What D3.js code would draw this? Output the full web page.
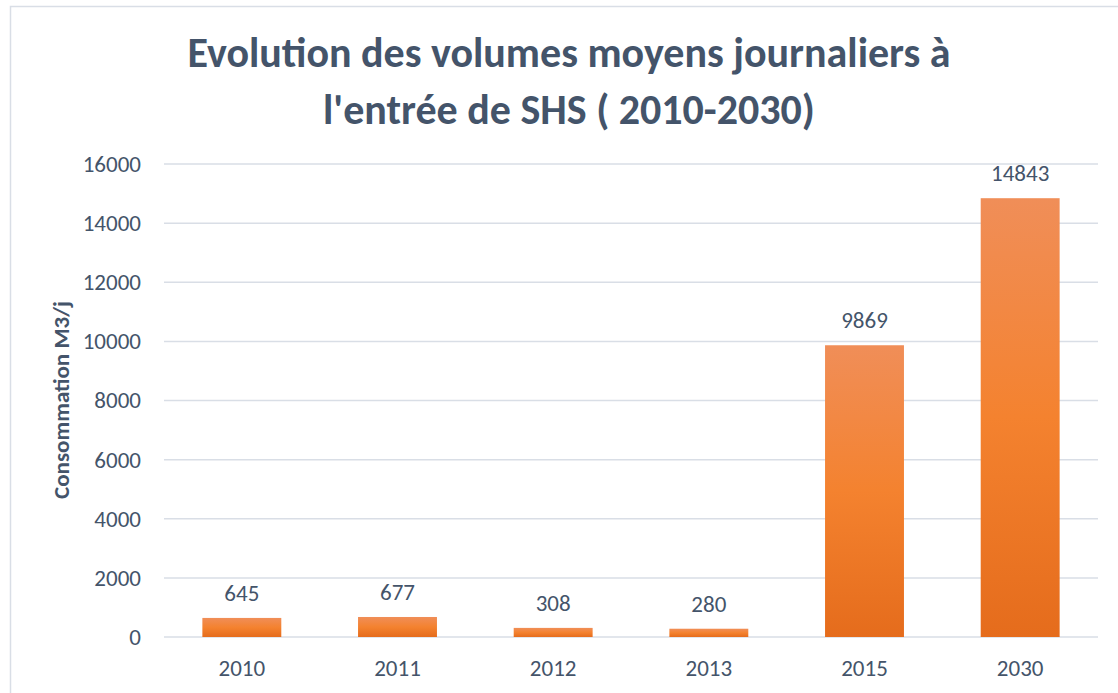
<!DOCTYPE html>
<html>
<head>
<meta charset="utf-8">
<script src="https://cdn.jsdelivr.net/npm/d3@7"></script>
<style>
  html, body { margin: 0; padding: 0; background: #fff; }
  svg { display: block; }
</style>
</head>
<body>
<div id="app"></div>
<script>
const years = ['2010', '2011', '2012', '2013', '2015', '2030'];
const volumes = [645, 677, 308, 280, 9869, 14843];
const yTicks = [0, 2000, 4000, 6000, 8000, 10000, 12000, 14000, 16000];
const titleLines = ['Evolution des volumes moyens journaliers à', "l'entrée de SHS ( 2010-2030)"];
const yTitle = 'Consommation M3/j';

const conf = {
  width: 1118,
  height: 693,
  margin: { top: 164, right: 20, bottom: 56, left: 164 },
  font: "Carlito, 'Open Sans', sans-serif",
  textColor: '#44546A',
  gridColor: '#D9DEE6'
};

function main() {
  const svg = d3.select('#app').append('svg')
    .attr('width', conf.width)
    .attr('height', conf.height);

  // outer chart frame
  svg.append('rect')
    .attr('x', 10.5).attr('y', 6.5)
    .attr('width', conf.width + 20).attr('height', conf.height + 20)
    .attr('fill', '#fff')
    .attr('stroke', '#D9DEE6')
    .attr('stroke-width', 1.5);

  const defs = svg.append('defs');
  const grad = defs.append('linearGradient')
    .attr('id', 'barGrad')
    .attr('x1', 0).attr('y1', 0).attr('x2', 0).attr('y2', 1);
  grad.append('stop').attr('offset', '0%').attr('stop-color', '#F08E58');
  grad.append('stop').attr('offset', '50%').attr('stop-color', '#F4822F');
  grad.append('stop').attr('offset', '100%').attr('stop-color', '#E56C1C');

  const x = d3.scaleBand()
    .domain(years)
    .range([conf.margin.left, conf.width - conf.margin.right])
    .padding(0);

  const y = d3.scaleLinear()
    .domain([0, 16000])
    .range([conf.height - conf.margin.bottom, conf.margin.top]);

  const barW = x.bandwidth() * 0.507;

  // gridlines
  svg.append('g')
    .selectAll('line')
    .data(yTicks)
    .join('line')
    .attr('x1', conf.margin.left)
    .attr('x2', conf.width - conf.margin.right)
    .attr('y1', d => y(d))
    .attr('y2', d => y(d))
    .attr('stroke', conf.gridColor)
    .attr('stroke-width', 1.5);

  // y axis labels
  const yAxis = svg.append('g')
    .attr('transform', `translate(${conf.margin.left - 6}, 0)`)
    .call(d3.axisLeft(y).tickValues(yTicks).tickSize(0).tickPadding(17).tickFormat(d3.format('d')));
  yAxis.select('.domain').remove();
  yAxis.selectAll('text')
    .attr('fill', conf.textColor)
    .style('font-family', conf.font)
    .style('font-size', '23px');

  // x axis labels
  const xAxis = svg.append('g')
    .attr('transform', `translate(0, ${y(0)})`)
    .call(d3.axisBottom(x).tickSize(0).tickPadding(23));
  xAxis.select('.domain').remove();
  xAxis.selectAll('text')
    .attr('fill', conf.textColor)
    .style('font-family', conf.font)
    .style('font-size', '23px');

  // bars
  svg.append('g')
    .selectAll('rect')
    .data(years)
    .join('rect')
    .attr('x', (d) => x(d) + (x.bandwidth() - barW) / 2)
    .attr('y', (d, i) => y(volumes[i]))
    .attr('width', barW)
    .attr('height', (d, i) => y(0) - y(volumes[i]))
    .attr('fill', 'url(#barGrad)');

  // data labels
  svg.append('g')
    .selectAll('text')
    .data(years)
    .join('text')
    .attr('x', d => x(d) + x.bandwidth() / 2)
    .attr('y', (d, i) => y(volumes[i]) - 17)
    .attr('text-anchor', 'middle')
    .attr('fill', conf.textColor)
    .style('font-family', conf.font)
    .style('font-size', '23px')
    .text((d, i) => volumes[i]);

  // title
  svg.append('g')
    .selectAll('text')
    .data(titleLines)
    .join('text')
    .attr('x', 569)
    .attr('y', (d, i) => 67 + i * 57)
    .attr('text-anchor', 'middle')
    .attr('fill', conf.textColor)
    .style('font-family', conf.font)
    .style('font-weight', 'bold')
    .style('font-size', '42px')
    .text(d => d);

  // y axis title
  svg.append('text')
    .attr('transform', 'translate(69, 400) rotate(-90)')
    .attr('text-anchor', 'middle')
    .attr('fill', conf.textColor)
    .style('font-family', conf.font)
    .style('font-weight', 'bold')
    .style('font-size', '23px')
    .text(yTitle);
}

main();
</script>
</body>
</html>
